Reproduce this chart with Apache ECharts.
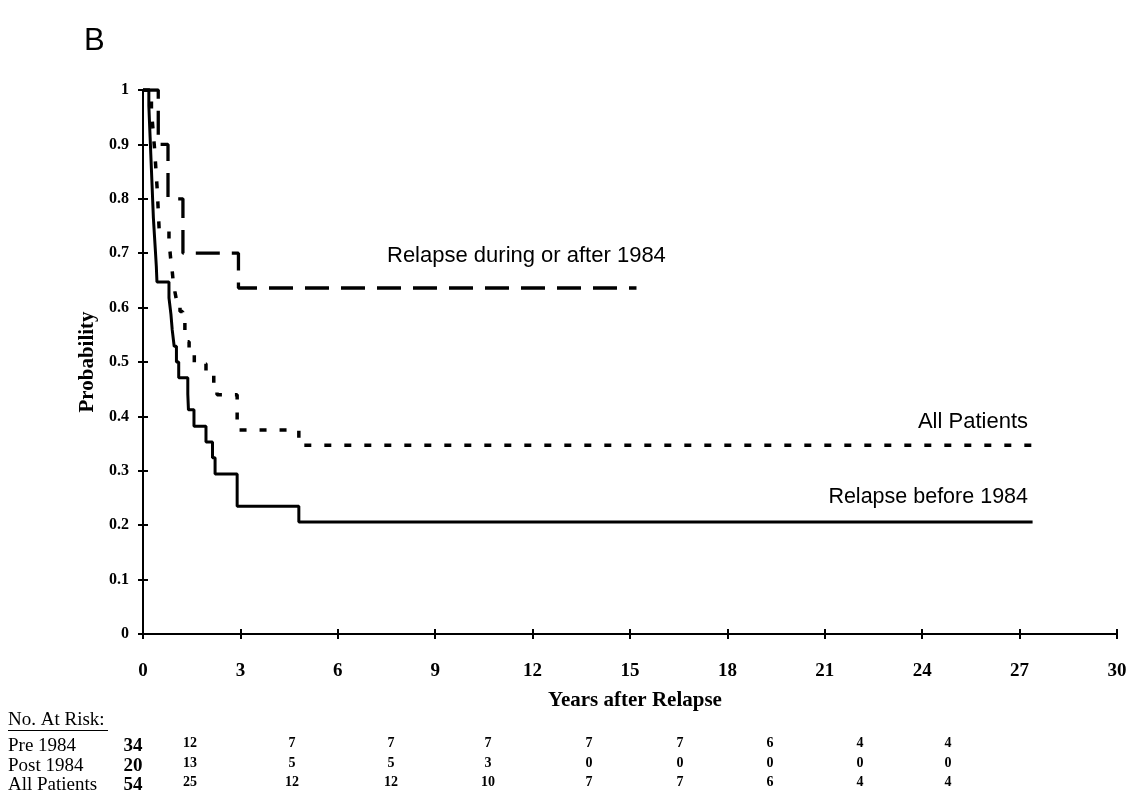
<!DOCTYPE html>
<html><head><meta charset="utf-8">
<script src="https://cdn.jsdelivr.net/npm/echarts@6/dist/echarts.min.js"></script>
<style>html,body{margin:0;padding:0;background:#fff}#c{width:1136px;height:793px}</style>
</head><body><div id="c"></div>
<script>
// Kaplan-Meier step data (time in years, survival after the step)
const preT  = [0,0.18,0.20,0.22,0.24,0.26,0.28,0.30,0.32,0.35,0.38,0.41,0.43,0.80,0.86,0.90,0.96,1.03,1.10,1.38,1.40,1.57,1.94,2.14,2.22,2.90,4.80,27.4];
const preS  = [1,0.971,0.941,0.912,0.882,0.853,0.824,0.794,0.765,0.735,0.706,0.676,0.647,0.618,0.588,0.559,0.529,0.500,0.471,0.441,0.412,0.382,0.353,0.324,0.294,0.235,0.206,0.206];
const postT = [0,0.47,0.77,1.23,2.94,15.2];
const postS = [1,0.90,0.80,0.70,0.636,0.636];
const allT  = [0,0.26,0.31,0.36,0.40,0.44,0.47,0.50,0.80,0.83,0.86,0.90,0.93,0.98,1.04,1.14,1.22,1.29,1.35,1.42,1.58,1.94,2.18,2.28,2.90,4.80,27.4];
const allS  = [1,0.963,0.926,0.889,0.852,0.815,0.778,0.741,0.722,0.704,0.685,0.667,0.648,0.630,0.611,0.593,0.574,0.556,0.537,0.519,0.497,0.476,0.455,0.440,0.375,0.347,0.347];

const seriesNames = ['Relapse before 1984','Relapse during or after 1984','All Patients'];
const panelLabel = 'B';
const xName = 'Years after Relapse';
const yName = 'Probability';

// Number at risk table
const riskTitle = 'No. At Risk:';
const riskLabels = ['Pre 1984','Post 1984','All Patients'];
const riskStart = ['34','20','54'];
const riskPre  = ['12','7','7','7','7','7','6','4','4'];
const riskPost = ['13','5','5','3','0','0','0','0','0'];
const riskAll  = ['25','12','12','10','7','7','6','4','4'];

// layout (pixels)
const colX = [190,292,391,488,589,680,770,860,948];
const rowY = [743,763,782];
const labelRowY = [746,766,785];

const zip = (t,s) => t.map((v,i)=>[v,s[i]]);
const serif = 'Liberation Serif';
const sans = 'Liberation Sans';

const graphics = [];
graphics.push({type:'text', x:8, y:720, style:{text:riskTitle, font:'19px "'+serif+'"', fill:'#000', textVerticalAlign:'middle'}});
graphics.push({type:'line', shape:{x1:8,y1:730.5,x2:108,y2:730.5}, style:{stroke:'#000', lineWidth:1}});
const rows=[riskPre,riskPost,riskAll];
riskLabels.forEach((lab,i)=>{
  graphics.push({type:'text', x:8, y:labelRowY[i], style:{text:lab, font:'19px "'+serif+'"', fill:'#000', textVerticalAlign:'middle'}});
  graphics.push({type:'text', x:133, y:labelRowY[i], style:{text:riskStart[i], font:'bold 19px "'+serif+'"', fill:'#000', textAlign:'center', textVerticalAlign:'middle'}});
  rows[i].forEach((v,j)=>{
    graphics.push({type:'text', x:colX[j], y:rowY[i], style:{text:v, font:'bold 14px "'+serif+'"', fill:'#000', textAlign:'center', textVerticalAlign:'middle'}});
  });
});
// curve annotations
graphics.push({type:'text', x:387, y:256, style:{text:seriesNames[1], font:'22px "'+sans+'"', fill:'#000', textVerticalAlign:'middle'}});
graphics.push({type:'text', x:1028, y:422, style:{text:seriesNames[2], font:'22px "'+sans+'"', fill:'#000', textAlign:'right', textVerticalAlign:'middle'}});
graphics.push({type:'text', x:1028, y:497, style:{text:seriesNames[0], font:'21.5px "'+sans+'"', fill:'#000', textAlign:'right', textVerticalAlign:'middle'}});
graphics.push({type:'text', x:84, y:41, style:{text:panelLabel, font:'31px "'+sans+'"', fill:'#000', textVerticalAlign:'middle'}});

const axisLineStyle = {color:'#000', width:2};
const chart = echarts.init(document.getElementById('c'), null, {renderer:'canvas'});
chart.setOption({
  backgroundColor:'#fff',
  animation:false,
  grid:{left:143, right:19, top:90, bottom:159, containLabel:false},
  xAxis:[{
    type:'value', min:0, max:30, interval:3,
    axisLine:{lineStyle:axisLineStyle}, axisTick:{length:5, lineStyle:axisLineStyle},
    axisLabel:{margin:28, color:'#000', fontFamily:serif, fontWeight:'bold', fontSize:19},
    splitLine:{show:false},
    name:xName, nameLocation:'middle', nameGap:56,
    nameTextStyle:{color:'#000', fontFamily:serif, fontWeight:'bold', fontSize:21, padding:[0,0,0,10]}
  },{
    type:'value', min:0, max:30, interval:3, position:'bottom',
    axisLine:{show:false}, axisTick:{inside:true, length:5, lineStyle:axisLineStyle},
    axisLabel:{show:false}, splitLine:{show:false}
  }],
  yAxis:[{
    type:'value', min:0, max:1, interval:0.1,
    axisLine:{show:true, lineStyle:axisLineStyle}, axisTick:{show:true, length:5, lineStyle:axisLineStyle},
    axisLabel:{margin:14, color:'#000', fontFamily:serif, fontWeight:'bold', fontSize:16},
    splitLine:{show:false},
    name:yName, nameLocation:'middle', nameGap:45, nameRotate:90,
    nameTextStyle:{color:'#000', fontFamily:serif, fontWeight:'bold', fontSize:21}
  },{
    type:'value', min:0, max:1, interval:0.1, position:'left',
    axisLine:{show:false}, axisTick:{show:true, inside:true, length:5, lineStyle:axisLineStyle},
    axisLabel:{show:false}, splitLine:{show:false}
  }],
  series:[
    {name:seriesNames[2], type:'line', step:'end', showSymbol:false, data:zip(allT,allS),
     lineStyle:{color:'#000', width:3.5, type:[7,13], cap:'butt'}},
    {name:seriesNames[1], type:'line', step:'end', showSymbol:false, data:zip(postT,postS),
     lineStyle:{color:'#000', width:3.3, type:[24,12], cap:'butt'}},
    {name:seriesNames[0], type:'line', step:'end', showSymbol:false, data:zip(preT,preS),
     lineStyle:{color:'#000', width:3, type:'solid'}}
  ],
  graphic:graphics
});
</script></body></html>
